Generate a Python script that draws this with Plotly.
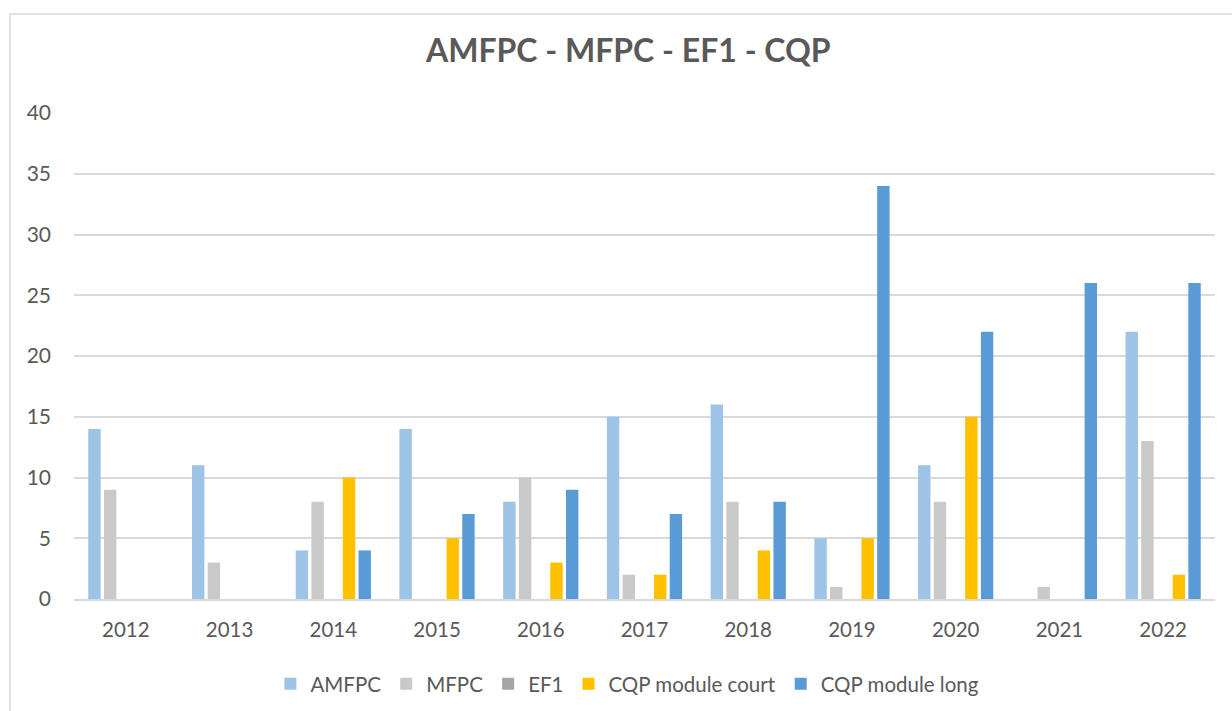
import plotly.graph_objects as go

years = ["2012", "2013", "2014", "2015", "2016", "2017", "2018", "2019", "2020", "2021", "2022"]
amfpc = [14, 11, 4, 14, 8, 15, 16, 5, 11, 0, 22]
mfpc = [9, 3, 8, 0, 10, 2, 8, 1, 8, 1, 13]
ef1 = [0, 0, 0, 0, 0, 0, 0, 0, 0, 0, 0]
cqp_court = [0, 0, 10, 5, 3, 2, 4, 5, 15, 0, 2]
cqp_long = [0, 0, 4, 7, 9, 7, 8, 34, 22, 26, 26]

series = [
    ("AMFPC", amfpc, "#9DC3E6"),
    ("MFPC", mfpc, "#C9C9C9"),
    ("EF1", ef1, "#A5A5A5"),
    ("CQP module court", cqp_court, "#FFC000"),
    ("CQP module long", cqp_long, "#5B9BD5"),
]

FONT = "Lato, 'Open Sans', 'DejaVu Sans', sans-serif"
TXT = "#595959"

fig = go.Figure()
for name, vals, col in series:
    fig.add_trace(go.Bar(x=years, y=vals, name=name, marker=dict(color=col, line=dict(width=0))))

W, H = 1232, 711
L, R, T, B = 74, 17, 113, 112
pw, ph = W - L - R, H - T - B

def px(x):
    return (x - L) / pw

def py(y):
    return (H - B - y) / ph

fig.update_layout(
    width=W, height=H,
    margin=dict(l=L, r=R, t=T, b=B),
    paper_bgcolor="white", plot_bgcolor="white",
    barmode="group", bargap=0.243, bargroupgap=0.21,
    font=dict(family=FONT, color=TXT, size=21),
    title=dict(text="<b>AMFPC - MFPC - EF1 - CQP</b>", x=0.51, xanchor="center",
               yref="container", y=1 - 51 / H, yanchor="middle",
               font=dict(size=32, color=TXT, family=FONT)),
    xaxis=dict(showgrid=False, showline=True, linecolor="#D9D9D9", linewidth=2,
               ticks="", tickfont=dict(size=20.5, color=TXT), ticklabelstandoff=11),
    yaxis=dict(range=[0, 40], dtick=5, showgrid=True, gridcolor="#D9D9D9", gridwidth=1.5,
               zeroline=False, ticks="", tickfont=dict(size=21, color=TXT), ticklabelstandoff=22),
    legend=dict(orientation="h", x=0.485, xanchor="center",
                yref="container", y=1 - 684 / H, yanchor="middle",
                font=dict(size=20.5, color=TXT), itemwidth=30, traceorder="normal"),
    showlegend=True,
    shapes=[dict(type="rect", xref="paper", yref="paper",
                 x0=px(10), x1=px(1260), y0=py(14), y1=py(740),
                 line=dict(color="#D9D9D9", width=1.5), layer="below")],
)

fig.write_html("out.html", config={"displayModeBar": False},
               post_script="document.body.style.margin='0';document.body.style.overflow='hidden';")
